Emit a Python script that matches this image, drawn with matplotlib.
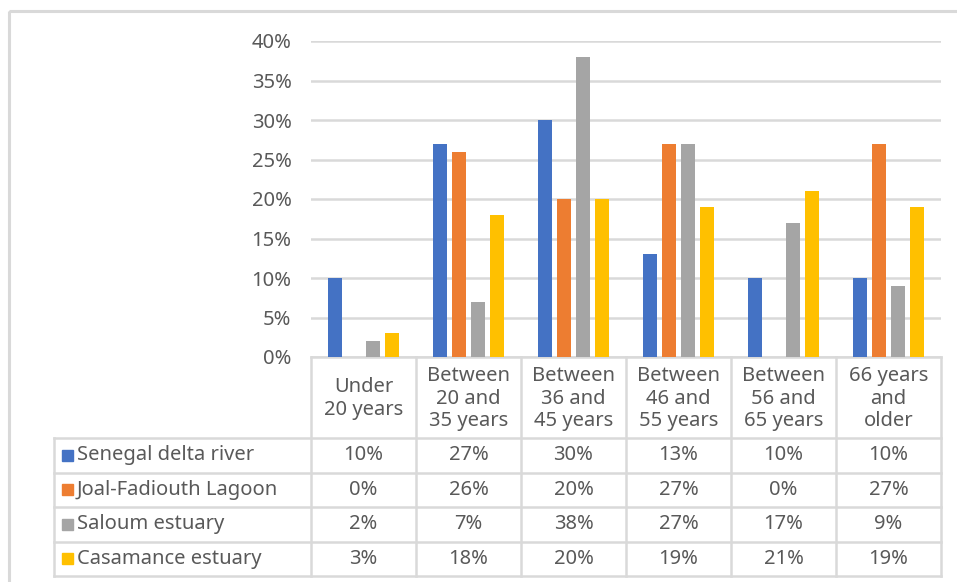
import numpy as np
import matplotlib
matplotlib.use("Agg")
import matplotlib.pyplot as plt
from matplotlib.patches import Rectangle

# Age groups and share of respondents per site
categories = ["Under\n20 years", "Between\n20 and\n35 years", "Between\n36 and\n45 years",
              "Between\n46 and\n55 years", "Between\n56 and\n65 years", "66 years\nand\nolder"]
series_names = ["Senegal delta river", "Joal-Fadiouth Lagoon", "Saloum estuary", "Casamance estuary"]
senegal = [10, 27, 30, 13, 10, 10]
joal = [0, 26, 20, 27, 0, 27]
saloum = [2, 7, 38, 27, 17, 9]
casamance = [3, 18, 20, 19, 21, 19]
y_ticks = [0, 5, 10, 15, 20, 25, 30, 35, 40]

series_values = [senegal, joal, saloum, casamance]
colors = ["#4472C4", "#ED7D31", "#A5A5A5", "#FFC000"]
text_color = "#595959"
grid_color = "#D9D9D9"
font = "Noto Sans"
fs = 14.5

W, H = 957, 582
fig = plt.figure(figsize=(W / 100, H / 100), dpi=100)

# plot area in pixel coordinates
x0, x1, y_top, y_bot = 311, 941, 41, 357
ax = fig.add_axes([x0 / W, 1 - y_bot / H, (x1 - x0) / W, (y_bot - y_top) / H])

n = len(categories)
x = np.arange(n)
step = 19 / 105
bar_w = 14 / 105
for i, (vals, c) in enumerate(zip(series_values, colors)):
    ax.bar(x + (i - 1.5) * step, np.array(vals) / 100, width=bar_w, color=c, zorder=3)

ax.set_xlim(-0.5, n - 0.5)
ax.set_ylim(0, 0.40)
ax.set_yticks([t / 100 for t in y_ticks])
ax.set_yticklabels([f"{t}%" for t in y_ticks], fontsize=fs, color=text_color, family=font)
ax.tick_params(axis="y", length=0, pad=14)
ax.set_xticks([])
ax.yaxis.grid(True, color=grid_color, linewidth=1.8, zorder=0)
for s in ["top", "right", "left"]:
    ax.spines[s].set_visible(False)
ax.spines["bottom"].set_color(grid_color)
ax.spines["bottom"].set_linewidth(1.8)

# overlay in pixel coordinates for the data table and frame
ov = fig.add_axes([0, 0, 1, 1], facecolor="none")
ov.set_xlim(0, W)
ov.set_ylim(H, 0)
ov.axis("off")

lc = "#D9D9D9"
lw = 1.8
# outer frame
ov.add_patch(Rectangle((9, 11), W + 20, H + 20, fill=False, edgecolor=lc, linewidth=2.2))

col_edges = [x0 + (x1 - x0) * k / n for k in range(n + 1)]
row_edges = [438, 472.5, 507, 541.5, 576]
label_left = 54

# vertical table lines
for k, cx in enumerate(col_edges):
    ov.plot([cx, cx], [y_bot, row_edges[-1]], color=lc, lw=lw)
ov.plot([label_left, label_left], [row_edges[0], row_edges[-1]], color=lc, lw=lw)
# horizontal table lines
for ry in row_edges:
    ov.plot([label_left, x1], [ry, ry], color=lc, lw=lw)

# header cells
for k, lab in enumerate(categories):
    cx = (col_edges[k] + col_edges[k + 1]) / 2
    ov.text(cx, (y_bot + row_edges[0]) / 2 + 1, lab, ha="center", va="center",
            fontsize=fs, color=text_color, family=font, linespacing=1.15)

# series rows
for r, (name, vals, c) in enumerate(zip(series_names, series_values, colors)):
    cy = (row_edges[r] + row_edges[r + 1]) / 2
    ov.add_patch(Rectangle((62, cy - 5.5), 11, 11, color=c))
    ov.text(77, cy, name, ha="left", va="center", fontsize=fs, color=text_color, family=font)
    for k, v in enumerate(vals):
        cx = (col_edges[k] + col_edges[k + 1]) / 2
        ov.text(cx, cy, f"{v}%", ha="center", va="center", fontsize=fs,
                color=text_color, family=font)

fig.savefig("out.png", dpi=100)
